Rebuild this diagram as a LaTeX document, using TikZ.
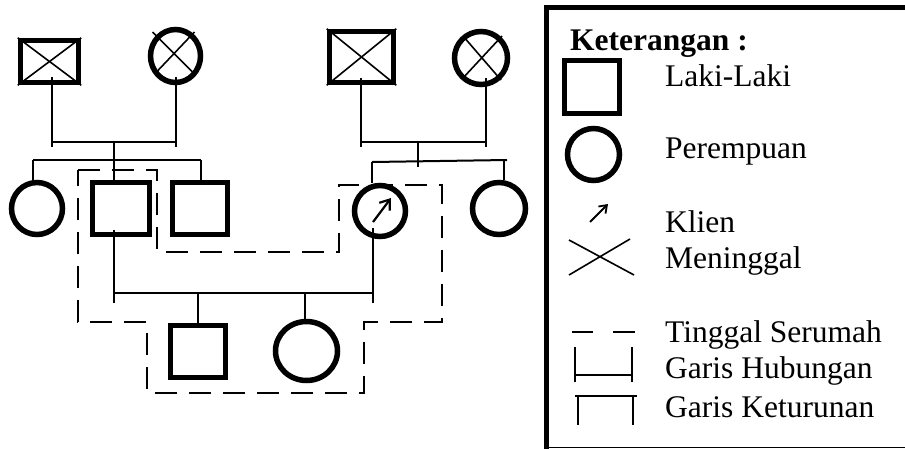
\documentclass[tikz,border=0pt]{standalone}
\usepackage{fontspec}
\setmainfont{Liberation Serif}
\usetikzlibrary{shapes.geometric,arrows.meta,calc}
\begin{document}
\begin{tikzpicture}[x=1pt,y=-1pt,
  male/.style={draw, rectangle, line width=5.5pt, inner sep=0pt},
  female/.style={draw, ellipse, line width=5.5pt, inner sep=0pt},
  link/.style={line width=2pt},
  house/.style={line width=2pt, dash pattern=on 22pt off 12pt},
  crossln/.style={line width=1.6pt},
  client/.style={line width=2.2pt, -{Straight Barb[length=9pt,width=13pt]}},
  lbl/.style={anchor=base west, inner sep=0pt, font=\fontsize{31.5}{36}\selectfont}]
\useasboundingbox (0,0) rectangle (905,448);

% ---------- generation 1 ----------
\node[male, minimum width=58pt, minimum height=42pt] (gf1) at (49.5,61.5) {};
\node[female, minimum width=50pt, minimum height=53pt] (gm1) at (175.5,56) {};
\node[male, minimum width=64pt, minimum height=51pt] (gf2) at (361.5,57) {};
\node[female, minimum width=53pt, minimum height=53pt] (gm2) at (481,58) {};
\draw[crossln] (gf1.north west) -- (gf1.south east) (gf1.north east) -- (gf1.south west);
\draw[crossln] (gf2.north west) -- (gf2.south east) (gf2.north east) -- (gf2.south west);
\draw[crossln] ($(gm1.center)+(-23,-24)$) -- ($(gm1.center)+(17,16)$)
               ($(gm1.center)+(19,-24)$) -- ($(gm1.center)+(-19,16)$);
\draw[crossln] ($(gm2.center)+(-18,-22)$) -- ($(gm2.center)+(20,22)$)
               ($(gm2.center)+(21,-22)$) -- ($(gm2.center)+(-18,20)$);

% ---------- generation 2 ----------
\node[female, minimum width=51pt, minimum height=52pt] (s1) at (37,208.5) {};
\node[male, minimum width=57pt, minimum height=52pt] (fa) at (121,208.5) {};
\node[male, minimum width=55pt, minimum height=52pt] (br) at (200,208.5) {};
\node[female, minimum width=51pt, minimum height=51pt] (kl) at (380,211) {};
\node[female, minimum width=53pt, minimum height=52pt] (s2) at (499,208.5) {};
\draw[client] ($(kl.center)+(-7,11)$) -- ($(kl.center)+(11,-13)$);

% ---------- generation 3 ----------
\node[male, minimum width=55pt, minimum height=52pt] (son) at (198,351.5) {};
\node[female, minimum width=62pt, minimum height=59pt] (dau) at (306.5,351) {};

% ---------- connectors, left family ----------
\coordinate (m1l) at (52,142);
\coordinate (m1r) at (176,142);
\coordinate (m1c) at (114,142);
\draw[link] (52,0 |- gf1.center) ++(0,15) -- (52,147);
\draw[link] (176,0 |- gm1.center) ++(0,21) -- (176,147);
\draw[link] (m1l) -- (m1r);
\draw[link] (m1c) -- (114,0 |- fa.north);
\draw[link] (33,160) -- (201,160);
\draw[link] (33,160) -- (33,0 |- s1.north);
\draw[link] (201,160) -- (201,0 |- br.north);

% ---------- connectors, right family ----------
\coordinate (m2l) at (361,142);
\coordinate (m2r) at (486,142);
\draw[link] (361,78) -- (361,147);
\draw[link] (486,78) -- (486,147);
\draw[link] (m2l) -- (m2r);
\draw[link] (418,142) -- (418,167);
\draw[link] (372,162) -- (507,160);
\draw[link] (372,162) -- (372,0 |- kl.north);
\draw[link] (504,160) -- (504,0 |- s2.north);

% ---------- marriage of parents ----------
\draw[link] (114,230) -- (114,303);
\draw[link] (373,228) -- (373,303);
\draw[link] (114,293) -- (373,293);
\draw[link] (198,293) -- (son.north);
\draw[link] (305,293) -- (305,0 |- dau.north);

% ---------- household ----------
\draw[house] (78,170) -- (157,170) -- (157,252) -- (339,252) -- (339,185)
  -- (442,185) -- (442,322) -- (364,322) -- (364,393) -- (147,393)
  -- (147,322) -- (78,322) -- cycle;

% ---------- legend ----------
\draw[line width=5pt] (546.5,449) -- (546.5,7.5) -- (910,7.5);
\draw[line width=1.5pt] (546.5,447.3) -- (905,447.3);
\node[lbl, font=\fontsize{31.5}{36}\selectfont\bfseries] (lt) at (570,50) {Keterangan :};
\node[male, minimum width=55pt, minimum height=53pt] (lm) at (592,87) {};
\node[lbl] (t1) at (665,86) {Laki-Laki};
\node[female, minimum width=52pt, minimum height=52pt] (lf) at (593.5,154.5) {};
\node[lbl] (t2) at (665,158) {Perempuan};
\draw[client, line width=1.8pt, -{Straight Barb[length=7pt,width=10pt]}] (590,222) -- (608,204);
\node[lbl] (t3) at (665,232) {Klien};
\draw[crossln] (569,240) -- (634,275) (569,275) -- (630,239);
\node[lbl] (t4) at (665,268) {Meninggal};
\draw[link] (572,332) -- (593,332) (613,332) -- (635,332);
\node[lbl] (t5) at (665,342) {Tinggal Serumah};
\draw[link] (575,347) -- (575,382) (632,347) -- (632,382) (575,375) -- (632,375);
\node[lbl] (t6) at (665,378) {Garis Hubungan};
\draw[link] (578,425) -- (578,396) (575,396) -- (637,396) (633,396) -- (633,425);
\node[lbl] (t7) at (665,417) {Garis Keturunan};
\end{tikzpicture}
\end{document}
